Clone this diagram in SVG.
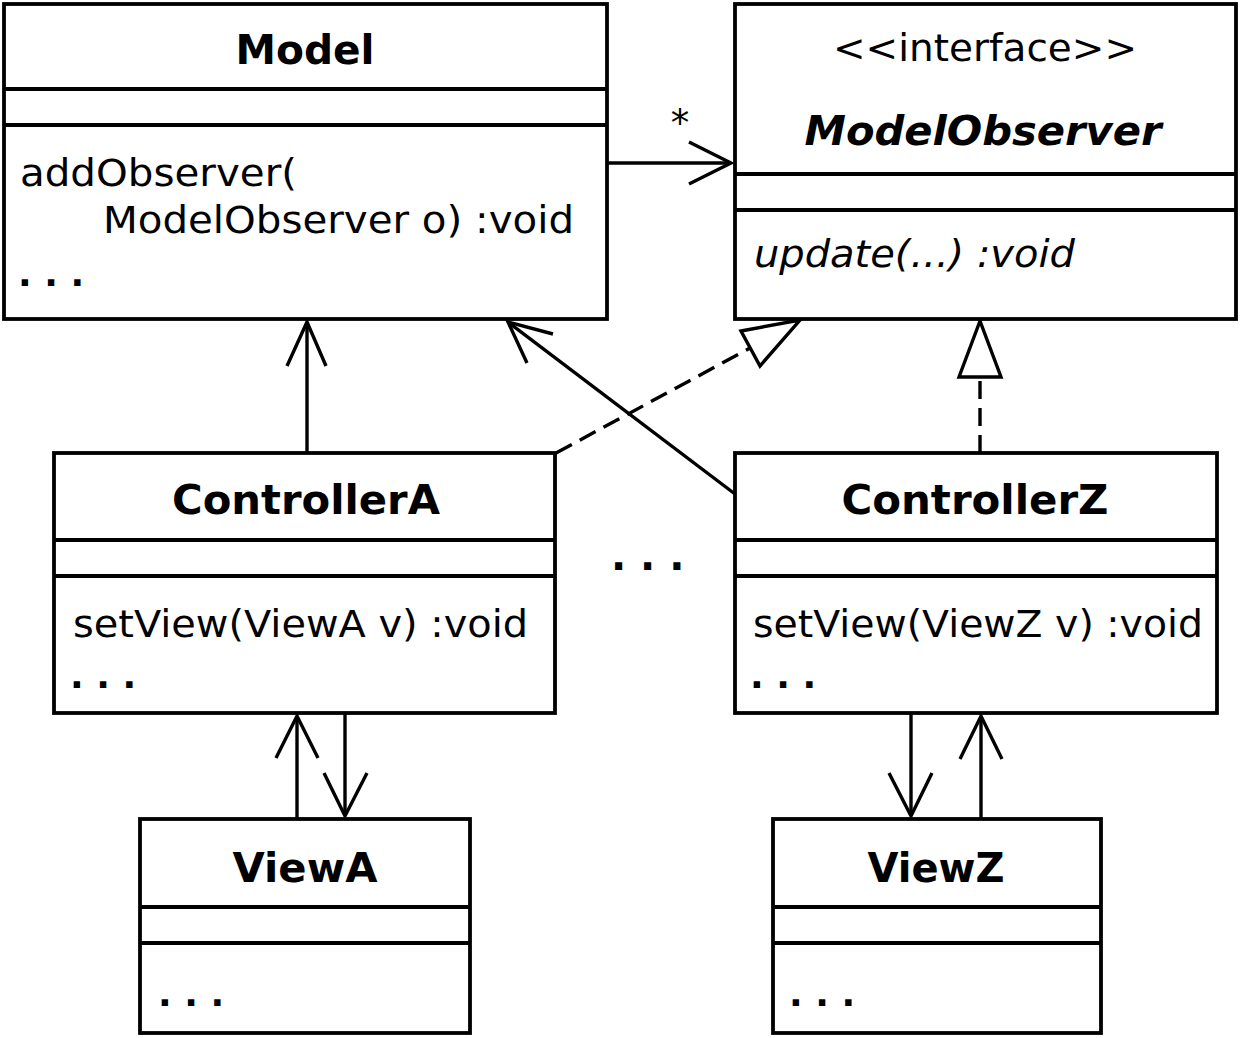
<svg xmlns="http://www.w3.org/2000/svg" width="1240" height="1038" viewBox="0 0 1240 1038">
<style>
.box{fill:#fff;stroke:#000;stroke-width:3.8}
.div{stroke:#000;stroke-width:3.8}
.t{font-family:"DejaVu Sans","Liberation Sans",sans-serif;font-size:37px;fill:#000}
.b{font-weight:bold;font-size:40px}
.d{font-weight:bold;font-size:36px}
.i{font-style:italic}
.c{text-anchor:middle}
.ln{fill:none;stroke:#000;stroke-width:3.4}
.dash{stroke-dasharray:18 9}
.tri{fill:#fff;stroke:#000;stroke-width:3.4;stroke-linejoin:miter}
</style>
<rect width="1240" height="1038" fill="#fff"/>
<g id="connectors">
  <line class="ln" x1="607" y1="163" x2="731" y2="163"/>
  <polyline class="ln" points="689,142 731,163 689,184"/>
  <line class="ln" x1="307" y1="453" x2="307" y2="322"/>
  <polyline class="ln" points="287,366 307,322 326,366"/>
  <line class="ln" x1="735" y1="494" x2="508" y2="322"/>
  <polyline class="ln" points="553,334 508,322 527,363"/>
  <line class="ln dash" x1="556" y1="453" x2="750" y2="348"/>
  <polygon class="tri" points="741,331 800,320 760,366"/>
  <line class="ln dash" x1="980" y1="453" x2="980" y2="377"/>
  <polygon class="tri" points="959,377 980,321 1001,377"/>
  <line class="ln" x1="297" y1="818" x2="297" y2="716"/>
  <polyline class="ln" points="276,758 297,716 318,758"/>
  <line class="ln" x1="345" y1="713" x2="345" y2="816"/>
  <polyline class="ln" points="324,773 345,816 367,773"/>
  <line class="ln" x1="911" y1="713" x2="911" y2="816"/>
  <polyline class="ln" points="889,773 911,816 932,773"/>
  <line class="ln" x1="981" y1="818" x2="981" y2="716"/>
  <polyline class="ln" points="960,759 981,716 1002,759"/>
  <text class="t" x="680" y="136" text-anchor="middle" font-size="32">*</text>
</g>
<g id="Model">
  <rect class="box" x="4" y="4" width="603" height="315"/>
  <line class="div" x1="4" y1="89" x2="607" y2="89"/>
  <line class="div" x1="4" y1="125" x2="607" y2="125"/>
  <text class="t b c" x="305" y="64" textLength="139" lengthAdjust="spacingAndGlyphs">Model</text>
  <text class="t" x="20" y="186" textLength="277" lengthAdjust="spacingAndGlyphs">addObserver(</text>
  <text class="t" x="103" y="233" textLength="471" lengthAdjust="spacingAndGlyphs">ModelObserver o) :void</text>
  <text class="t d" x="18" y="286">. . .</text>
</g>
<g id="ModelObserver">
  <rect class="box" x="735" y="4" width="501" height="315"/>
  <line class="div" x1="735" y1="174" x2="1236" y2="174"/>
  <line class="div" x1="735" y1="210" x2="1236" y2="210"/>
  <text class="t c" x="985" y="61" textLength="304" lengthAdjust="spacingAndGlyphs">&lt;&lt;interface&gt;&gt;</text>
  <text class="t b i c" x="983" y="145" textLength="357" lengthAdjust="spacingAndGlyphs">ModelObserver</text>
  <text class="t i" x="754" y="267" textLength="321" lengthAdjust="spacingAndGlyphs">update(...) :void</text>
</g>
<g id="ControllerA">
  <rect class="box" x="54" y="453" width="501" height="260"/>
  <line class="div" x1="54" y1="540" x2="555" y2="540"/>
  <line class="div" x1="54" y1="576" x2="555" y2="576"/>
  <text class="t b c" x="306" y="514" textLength="268" lengthAdjust="spacingAndGlyphs">ControllerA</text>
  <text class="t" x="73" y="637" textLength="455" lengthAdjust="spacingAndGlyphs">setView(ViewA v) :void</text>
  <text class="t d" x="70" y="688">. . .</text>
</g>
<g id="ControllerZ">
  <rect class="box" x="735" y="453" width="482" height="260"/>
  <line class="div" x1="735" y1="540" x2="1217" y2="540"/>
  <line class="div" x1="735" y1="576" x2="1217" y2="576"/>
  <text class="t b c" x="975" y="514" textLength="267" lengthAdjust="spacingAndGlyphs">ControllerZ</text>
  <text class="t" x="753" y="637" textLength="450" lengthAdjust="spacingAndGlyphs">setView(ViewZ v) :void</text>
  <text class="t d" x="750" y="688">. . .</text>
</g>
<g id="ellipsis">
  <text class="t b" x="611" y="570">. . .</text>
</g>
<g id="ViewA">
  <rect class="box" x="140" y="819" width="330" height="214"/>
  <line class="div" x1="140" y1="907" x2="470" y2="907"/>
  <line class="div" x1="140" y1="943" x2="470" y2="943"/>
  <text class="t b c" x="305" y="882" textLength="145" lengthAdjust="spacingAndGlyphs">ViewA</text>
  <text class="t d" x="158" y="1006">. . .</text>
</g>
<g id="ViewZ">
  <rect class="box" x="773" y="819" width="328" height="214"/>
  <line class="div" x1="773" y1="907" x2="1101" y2="907"/>
  <line class="div" x1="773" y1="943" x2="1101" y2="943"/>
  <text class="t b c" x="936" y="882" textLength="137" lengthAdjust="spacingAndGlyphs">ViewZ</text>
  <text class="t d" x="789" y="1006">. . .</text>
</g>
</svg>
